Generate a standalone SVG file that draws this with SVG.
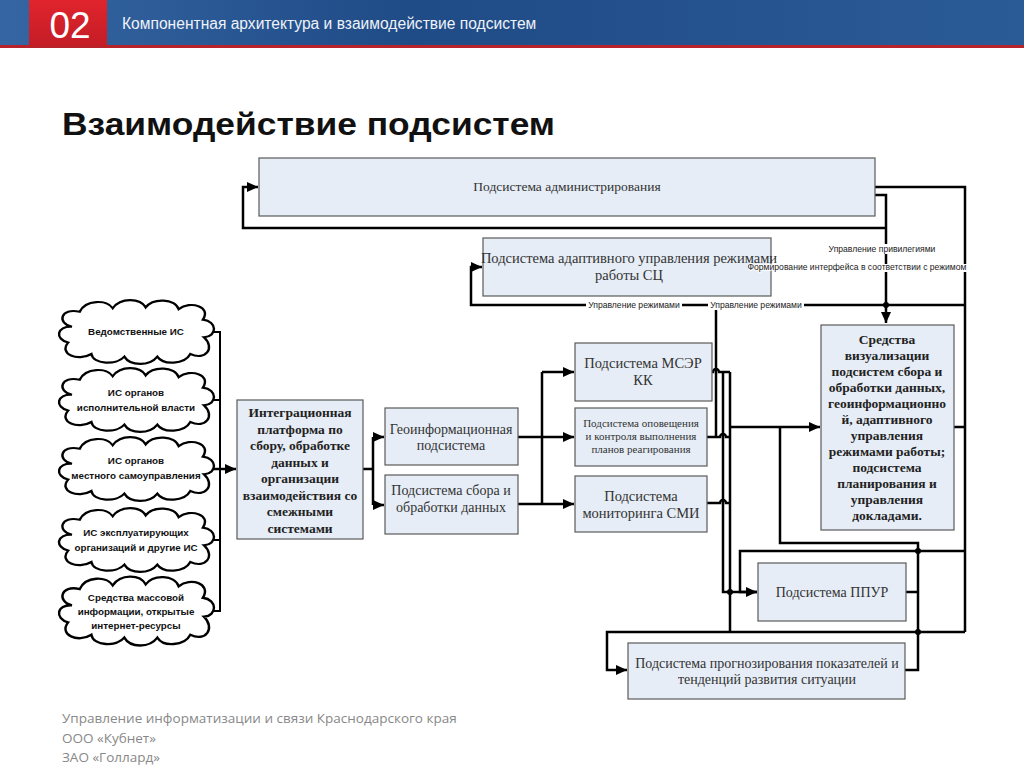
<svg xmlns="http://www.w3.org/2000/svg" width="1024" height="768" viewBox="0 0 1024 768">
<defs>
<linearGradient id="band" x1="0" y1="0" x2="1" y2="0">
<stop offset="0" stop-color="#3566a3"/>
<stop offset="0.4" stop-color="#1f4b86"/>
<stop offset="1" stop-color="#2b5b97"/>
</linearGradient>
<linearGradient id="red" x1="0" y1="0" x2="0" y2="1">
<stop offset="0" stop-color="#e0242d"/>
<stop offset="1" stop-color="#c41d26"/>
</linearGradient>
<marker id="ah" markerUnits="userSpaceOnUse" markerWidth="12" markerHeight="10" refX="11" refY="5" orient="auto">
<path d="M0,0 L11,5 L0,10 Z" fill="#000"/>
</marker>
<path id="cloud" d="M -66,-6 C -82,-10 -78,-28 -58,-23 C -52,-37 -30,-37 -24,-27 C -16,-39 4,-39 10,-28 C 18,-39 40,-38 44,-26 C 56,-36 78,-29 69,-14 C 84,-12 84,5 70,6 C 82,18 72,33 56,25 C 50,37 28,38 22,28 C 14,39 -6,39 -12,28 C -20,38 -44,37 -46,25 C -60,34 -80,25 -70,12 C -84,8 -82,-7 -66,-6 Z"/>
</defs>
<style>
.box{fill:#e6edf6;stroke:#5a5a5a;stroke-width:1.2}
.t{font-family:"Liberation Serif","Times New Roman",serif;fill:#333;text-anchor:middle}
.tb{font-family:"Liberation Serif","Times New Roman",serif;fill:#222;text-anchor:middle;font-weight:bold}
.ct{font-family:"Liberation Sans",Arial,sans-serif;font-weight:bold;font-size:9.8px;fill:#111;text-anchor:middle}
.cl{fill:#fff;stroke:#000;stroke-width:2.5}
.ln{fill:none;stroke:#000;stroke-width:2.5}
.thin{fill:none;stroke:#000;stroke-width:2}
.lbl{font-family:"Liberation Sans",Arial,sans-serif;font-size:8.6px;fill:#222;text-anchor:middle}
.ft{font-family:"Open Sans","Liberation Sans",sans-serif;font-size:13.5px;fill:#888}
</style>
<rect width="1024" height="768" fill="#fff"/>
<!-- header -->
<rect x="0" y="0" width="1024" height="46" fill="url(#band)"/>
<rect x="0" y="45" width="1024" height="3" fill="#b8232b"/>
<rect x="29" y="0" width="78" height="46" fill="url(#red)"/>
<text x="70" y="38" font-family="Liberation Sans,Arial,sans-serif" font-size="37" fill="#fff" text-anchor="middle">02</text>
<text x="122" y="29" font-family="Liberation Sans,Arial,sans-serif" font-size="15.6" fill="#eef2f8">Компонентная архитектура и взаимодействие подсистем</text>
<text x="62" y="135" font-family="Liberation Sans,Arial,sans-serif" font-size="31" font-weight="bold" fill="#111" textLength="493" lengthAdjust="spacingAndGlyphs">Взаимодействие подсистем</text>

<!-- connectors -->
<g id="connectors">
<path class="ln" d="M886,228 H243 V187 H258" marker-end="url(#ah)"/>
<path class="ln" d="M875,195 H886 V323" marker-end="url(#ah)"/>
<path class="ln" d="M875,187 H965 V632"/>
<path class="ln" d="M965,305 H471 V267 H482" marker-end="url(#ah)"/>
<circle cx="886" cy="305" r="3"/>
<path class="ln" d="M716,305 V437"/>
<!-- left bus -->
<path class="thin" d="M213,332 H220 V611 H213 M213,400 H220 M213,540 H220"/>
<path class="ln" d="M213,469 H236" marker-end="url(#ah)"/>
<!-- integration to geo/collection -->
<path class="ln" d="M363,469 H373 M373,437 V505"/>
<path class="ln" d="M373,437 H384" marker-end="url(#ah)"/>
<path class="ln" d="M373,505 H384" marker-end="url(#ah)"/>
<!-- to middle column -->
<path class="ln" d="M542,372 V504"/>
<path class="ln" d="M542,372 H574" marker-end="url(#ah)"/>
<path class="ln" d="M517,437 H574" marker-end="url(#ah)"/>
<path class="ln" d="M517,504 H574" marker-end="url(#ah)"/>
<!-- outputs of middle column -->
<path class="ln" d="M712,372 H713 A3,3 0 0 1 719,372 H730"/>
<path class="ln" d="M707,437 H720 A3,3 0 0 1 726,437 H730"/>
<path class="ln" d="M707,503 H720 A3,3 0 0 1 726,503 H730"/>
<path class="ln" d="M723,372 V592 H757" marker-end="url(#ah)"/>
<path class="ln" d="M730,372 V632"/>
<path class="ln" d="M730,427 H820" marker-end="url(#ah)"/>
<circle cx="730" cy="592" r="3"/>
<!-- feedback from PPUR / forecast -->
<path class="ln" d="M780,427 V543 H918 V670 H905"/>
<path class="ln" d="M906,592 H918"/>
<path class="ln" d="M954,427 H965"/>
<path class="ln" d="M965,551 H740 V592 H757"/>
<path class="ln" d="M965,632 H607 V670 H627" marker-end="url(#ah)"/>
<circle cx="918" cy="551" r="3"/>
<circle cx="918" cy="632" r="3"/>
</g>

<!-- clouds -->
<g id="cloud1"><use href="#cloud" class="cl" transform="translate(136,332) scale(0.97,0.88)"/><text class="ct" x="136" y="335">Ведомственные ИС</text></g>
<g id="cloud2"><use href="#cloud" class="cl" transform="translate(136,400) scale(0.97,0.88)"/><text class="ct" x="136" y="396">ИС органов</text><text class="ct" x="136" y="411">исполнительной власти</text></g>
<g id="cloud3"><use href="#cloud" class="cl" transform="translate(136,469) scale(0.97,0.88)"/><text class="ct" x="136" y="464">ИС органов</text><text class="ct" x="136" y="479">местного самоуправления</text></g>
<g id="cloud4"><use href="#cloud" class="cl" transform="translate(136,540) scale(0.97,0.88)"/><text class="ct" x="136" y="536">ИС эксплуатирующих</text><text class="ct" x="136" y="551">организаций и другие ИС</text></g>
<g id="cloud5"><use href="#cloud" class="cl" transform="translate(136,611) scale(0.97,0.95)"/><text class="ct" x="136" y="601">Средства массовой</text><text class="ct" x="136" y="615">информации, открытые</text><text class="ct" x="136" y="629">интернет-ресурсы</text></g>

<!-- boxes -->
<g id="admin"><rect class="box" x="259" y="158" width="616" height="58"/><text class="t" x="567" y="191" font-size="13.5">Подсистема администрирования</text></g>
<g id="adaptive"><rect class="box" x="483" y="238" width="288" height="58"/><text class="t" x="629" y="263" font-size="14.5">Подсистема адаптивного управления режимами</text><text class="t" x="629" y="280" font-size="14.5">работы СЦ</text></g>
<g id="integration"><rect class="box" x="237" y="400" width="126" height="139"/>
<text class="tb" font-size="13.5"><tspan x="300" y="417">Интеграционная</tspan><tspan x="300" y="433.5">платформа по</tspan><tspan x="300" y="450">сбору, обработке</tspan><tspan x="300" y="466.5">данных и</tspan><tspan x="300" y="483">организации</tspan><tspan x="300" y="499.5">взаимодействия со</tspan><tspan x="300" y="516">смежными</tspan><tspan x="300" y="532.5">системами</tspan></text></g>
<g id="geo"><rect class="box" x="385" y="408" width="133" height="57"/><text class="t" x="451" y="434" font-size="14">Геоинформационная</text><text class="t" x="451" y="450" font-size="14">подсистема</text></g>
<g id="collect"><rect class="box" x="385" y="475" width="133" height="59"/><text class="t" x="451" y="495" font-size="14">Подсистема сбора и</text><text class="t" x="451" y="512" font-size="14">обработки данных</text></g>
<g id="mser"><rect class="box" x="575" y="343" width="137" height="58"/><text class="t" x="643" y="368" font-size="14.5">Подсистема МСЭР</text><text class="t" x="643" y="385" font-size="14.5">КК</text></g>
<g id="notify"><rect class="box" x="575" y="408" width="132" height="58"/><text class="t" x="641" y="427" font-size="11">Подсистема оповещения</text><text class="t" x="641" y="440" font-size="11">и контроля выполнения</text><text class="t" x="641" y="453" font-size="11">планов реагирования</text></g>
<g id="monitor"><rect class="box" x="575" y="476" width="132" height="56"/><text class="t" x="641" y="501" font-size="14.5">Подсистема</text><text class="t" x="641" y="518" font-size="14.5">мониторинга СМИ</text></g>
<g id="visual"><rect class="box" x="821" y="325" width="133" height="205"/>
<text class="tb" font-size="13.5"><tspan x="887" y="344">Средства</tspan><tspan x="887" y="360">визуализации</tspan><tspan x="887" y="376">подсистем сбора и</tspan><tspan x="887" y="392">обработки данных,</tspan><tspan x="887" y="408">геоинформационно</tspan><tspan x="887" y="424">й, адаптивного</tspan><tspan x="887" y="440">управления</tspan><tspan x="887" y="456">режимами работы;</tspan><tspan x="887" y="472">подсистема</tspan><tspan x="887" y="488">планирования и</tspan><tspan x="887" y="504">управления</tspan><tspan x="887" y="520">докладами.</tspan></text></g>
<g id="ppur"><rect class="box" x="758" y="563" width="148" height="58"/><text class="t" x="832" y="597" font-size="14">Подсистема ППУР</text></g>
<g id="forecast"><rect class="box" x="628" y="643" width="277" height="56"/><text class="t" x="767" y="668" font-size="14">Подсистема прогнозирования показателей и</text><text class="t" x="767" y="684" font-size="14">тенденций развития ситуации</text></g>

<!-- connector labels (drawn above boxes) -->
<g id="connector-labels">
<rect x="586" y="300" width="96" height="10" fill="#fff"/>
<text class="lbl" x="634" y="308">Управление режимами</text>
<rect x="708" y="300" width="96" height="10" fill="#fff"/>
<text class="lbl" x="756" y="308">Управление режимами</text>
<rect x="826" y="244" width="112" height="10" fill="#fff"/>
<text class="lbl" x="882" y="252">Управление привилегиями</text>
<rect x="772" y="264" width="198" height="8" fill="#fff"/>
<text class="lbl" x="857" y="270" stroke="#fff" stroke-width="1.5" paint-order="stroke">Формирование интерфейса в соответствии с режимом</text>
</g>

<!-- footer -->
<text class="ft" x="62" y="723">Управление информатизации и связи Краснодарского края</text>
<text class="ft" x="62" y="743">ООО «Кубнет»</text>
<text class="ft" x="62" y="762">ЗАО «Голлард»</text>
</svg>
